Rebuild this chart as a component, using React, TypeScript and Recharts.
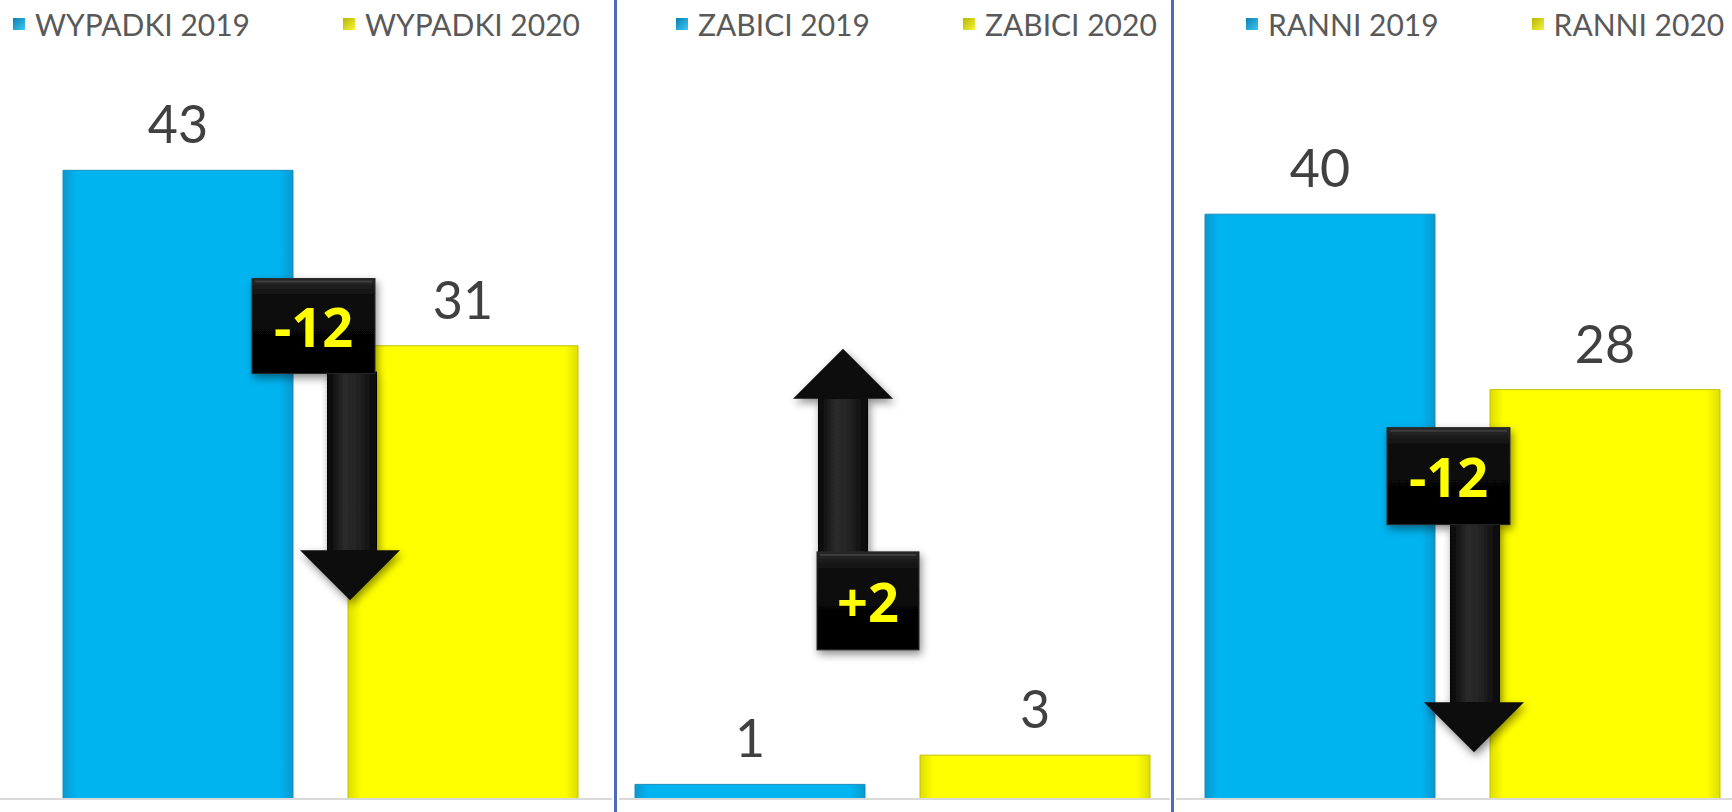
import React from 'react';
import { BarChart, Bar, XAxis, YAxis, Legend, LabelList, ReferenceLine } from 'recharts';

// ---- data ----
const panelTitles = ['WYPADKI', 'ZABICI', 'RANNI'];
const years = ['2019', '2020'];
const values2019 = [43, 1, 40];
const values2020 = [31, 3, 28];
const yDomainMax = 50;

// annotation arrow extents, in value units (top end, bottom end)
const arrowTopValues = [35.6, 30.8, 25.4];
const arrowBottomValues = [13.6, 10.2, 3.2];

// ---- layout / style ----
const CHART_H = 812;
const panelLayout = [
  { left: 0, width: 612, padL: 28, padR: 0, legendLeft: 13, shaftDx: 32, tipDx: 30, boxDx: -6.5, boxW: 123, boxH: 95 },
  { left: 619, width: 551, padL: 0, padR: 5, legendLeft: 57, shaftDx: -49, tipDx: -49, boxDx: -24, boxW: 102, boxH: 98 },
  { left: 1176, width: 556, padL: 17, padR: 0, legendLeft: 70, shaftDx: 12.5, tipDx: 11.5, boxDx: -14, boxW: 123, boxH: 97 },
];
const dividerXs = [614, 1171];

const seriesStyle = [
  { key: 'y2019', grad: ['#0b98cf', '#00b4f0'], stroke: '#1a8cbd', legendGrad: ['#0a7fb0', '#3cc8f5'] },
  { key: 'y2020', grad: ['#dede00', '#ffff00'], stroke: '#c2c200', legendGrad: ['#b5b500', '#f5f540'] },
];

function makeArrowShape(i: number, delta: number) {
  const L = panelLayout[i];
  const label = (delta > 0 ? '+' : '') + delta;
  return (props: any) => {
    const { x1, y1, y2 } = props;
    const cx = x1;
    const yTop = Math.min(y1, y2);
    const yBot = Math.max(y1, y2);
    const shaftW = 50;
    const headW = 100;
    const headH = 50;
    const down = delta < 0;
    let boxY: number, shaftY1: number, shaftY2: number, head: string;
    const tx = cx + L.tipDx;
    if (down) {
      boxY = yTop;
      shaftY1 = yTop + L.boxH - 2;
      shaftY2 = yBot - headH + 2;
      head = `${tx - headW / 2},${yBot - headH} ${tx + headW / 2},${yBot - headH} ${tx},${yBot}`;
    } else {
      boxY = yBot - L.boxH;
      shaftY1 = yTop + headH - 2;
      shaftY2 = yBot - L.boxH + 2;
      head = `${tx - headW / 2},${yTop + headH} ${tx + headW / 2},${yTop + headH} ${tx},${yTop}`;
    }
    const sx = cx + L.shaftDx - shaftW / 2;
    const bx = cx + L.boxDx - L.boxW / 2;
    return (
      <g filter={`url(#shadow${i})`}>
        <rect x={sx} y={shaftY1} width={shaftW} height={shaftY2 - shaftY1} fill={`url(#shaft${i})`} />
        <polygon points={head} fill="#0a0a0a" />
        <rect x={bx} y={boxY} width={L.boxW} height={L.boxH} fill={`url(#box${i})`} stroke="#2a2a2a" strokeWidth={1} />
        <line x1={bx + 3} x2={bx + L.boxW - 3} y1={boxY + 3} y2={boxY + 3} stroke="#3c3c3c" strokeWidth={2} />
        <text
          x={bx + L.boxW / 2}
          y={boxY + L.boxH / 2 + 21}
          textAnchor="middle"
          fill="#ffff00"
          fontFamily="'Open Sans', sans-serif"
          fontWeight={700}
          fontSize={54}
        >
          {label}
        </text>
      </g>
    );
  };
}

function ValueLabel(props: any) {
  const { x, y, width, value } = props;
  return (
    <text
      x={x + width / 2}
      y={y - 27}
      textAnchor="middle"
      fill="#404040"
      fontFamily="Lato, sans-serif"
      fontSize={52}
    >
      {value}
    </text>
  );
}

function makeLegend(title: string) {
  return () => (
    <div
      style={{
        display: 'flex',
        alignItems: 'center',
        fontFamily: 'Lato, sans-serif',
        fontSize: 30,
        lineHeight: '36px',
        color: '#595959',
        whiteSpace: 'nowrap',
      }}
    >
      {years.map((yr, k) => (
        <div key={yr} style={{ display: 'flex', alignItems: 'center', marginRight: k === 0 ? 93 : 0 }}>
          <span
            style={{
              display: 'inline-block',
              width: 12,
              height: 12,
              marginRight: 10,
              background: `linear-gradient(135deg, ${seriesStyle[k].legendGrad[0]}, ${seriesStyle[k].legendGrad[1]})`,
            }}
          />
          <span>{`${title} ${yr}`}</span>
        </div>
      ))}
    </div>
  );
}

function Panel({ i }: { i: number }) {
  const L = panelLayout[i];
  const title = panelTitles[i];
  const data = [{ name: title, y2019: values2019[i], y2020: values2020[i] }];
  const delta = values2020[i] - values2019[i];
  return (
    <div style={{ position: 'absolute', left: L.left, top: 0, width: L.width, height: CHART_H }}>
      <BarChart
        width={L.width}
        height={CHART_H}
        data={data}
        margin={{ top: 68, right: 0, bottom: 12, left: 0 }}
        barGap={55}
        barCategoryGap={0}
      >
        <defs>
          {seriesStyle.map((s, k) => (
            <linearGradient key={k} id={`bar${i}_${k}`} x1="0" y1="0" x2="1" y2="0">
              <stop offset="0%" stopColor={s.grad[0]} />
              <stop offset="6%" stopColor={s.grad[1]} />
              <stop offset="94%" stopColor={s.grad[1]} />
              <stop offset="100%" stopColor={s.grad[0]} />
            </linearGradient>
          ))}
          <linearGradient id={`shaft${i}`} x1="0" y1="0" x2="1" y2="0">
            <stop offset="0%" stopColor="#050505" />
            <stop offset="35%" stopColor="#2b2b2b" />
            <stop offset="65%" stopColor="#222" />
            <stop offset="100%" stopColor="#050505" />
          </linearGradient>
          <linearGradient id={`box${i}`} x1="0" y1="0" x2="0" y2="1">
            <stop offset="0%" stopColor="#2a2a2a" />
            <stop offset="20%" stopColor="#0c0c0c" />
            <stop offset="100%" stopColor="#000" />
          </linearGradient>
          <filter id={`shadow${i}`} x="-30%" y="-10%" width="160%" height="130%">
            <feDropShadow dx="2" dy="4" stdDeviation="4" floodColor="#000" floodOpacity="0.45" />
          </filter>
        </defs>
        <XAxis
          dataKey="name"
          tick={false}
          tickLine={false}
          height={1}
          padding={{ left: L.padL, right: L.padR }}
          axisLine={{ stroke: '#d9d9d9', strokeWidth: 2 }}
        />
        <YAxis hide domain={[0, yDomainMax]} />
        <Legend
          verticalAlign="middle"
          align="center"
          content={makeLegend(title)}
          wrapperStyle={{ top: 6, left: L.legendLeft, width: 'auto', height: 'auto' }}
        />
        {seriesStyle.map((s, k) => (
          <Bar
            key={s.key}
            dataKey={s.key}
            name={`${title} ${years[k]}`}
            fill={`url(#bar${i}_${k})`}
            stroke={s.stroke}
            strokeWidth={1}
            barSize={230}
            isAnimationActive={false}
          >
            <LabelList dataKey={s.key} content={ValueLabel} />
          </Bar>
        ))}
        <ReferenceLine
          segment={[
            { x: title, y: arrowTopValues[i] },
            { x: title, y: arrowBottomValues[i] },
          ]}
          shape={makeArrowShape(i, delta)}
        />
      </BarChart>
    </div>
  );
}

export default function App() {
  return (
    <div
      style={{
        position: 'absolute',
        left: 0,
        top: 0,
        width: 1732,
        height: CHART_H,
        background: '#fff',
        overflow: 'hidden',
      }}
    >
      {panelTitles.map((_, i) => (
        <Panel key={i} i={i} />
      ))}
      {dividerXs.map((x) => (
        <div
          key={x}
          style={{ position: 'absolute', left: x, top: 0, width: 3, height: CHART_H, background: '#4f6bb8' }}
        />
      ))}
    </div>
  );
}
